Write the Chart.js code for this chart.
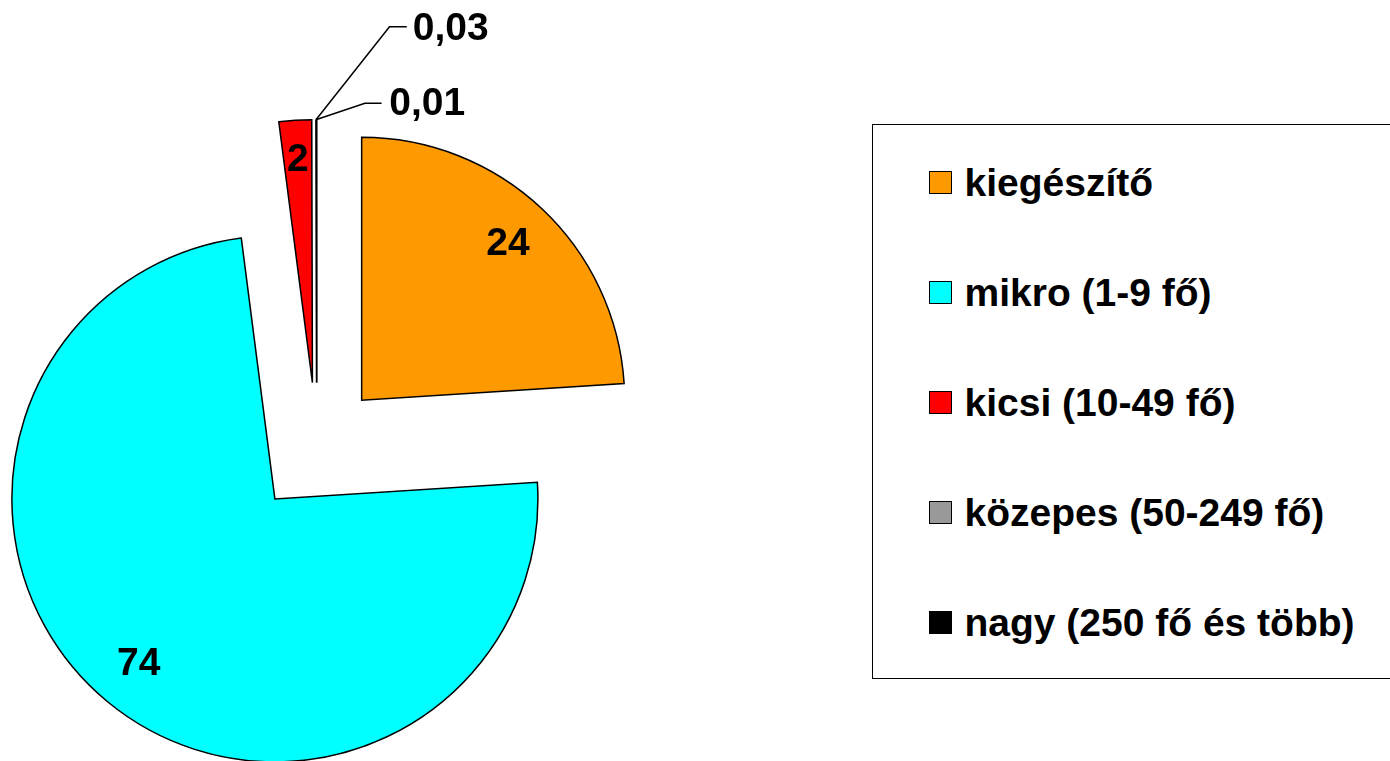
<!DOCTYPE html>
<html>
<head>
<meta charset="utf-8">
<script src="https://cdn.jsdelivr.net/npm/chart.js@4/dist/chart.umd.min.js"></script>
<style>
html,body{margin:0;padding:0;width:1390px;height:761px;overflow:hidden;background:#fff;}
#wrap{position:relative;width:1390px;height:761px;}
#chart{position:absolute;left:0;top:0;}
#legend{position:absolute;left:872px;top:124px;width:560px;height:555px;box-sizing:border-box;border:1.5px solid #000;background:#fff;
  font:bold 39px "Liberation Sans", Arial, sans-serif;color:#000;}
.item{position:absolute;left:55.5px;height:40px;display:flex;align-items:center;white-space:nowrap;}
.sw{width:21px;height:21px;border:1px solid #000;margin-right:13px;flex:none;}
</style>
</head>
<body>
<div id="wrap">
  <canvas id="chart" width="1390" height="761"></canvas>
  <div id="legend"></div>
</div>
<script>
// ---- data ----
const categories = ['kiegészítő', 'mikro (1-9 fő)', 'kicsi (10-49 fő)', 'közepes (50-249 fő)', 'nagy (250 fő és több)'];
const values = [24, 74, 2, 0.03, 0.01];
const colors = ['#FF9900', '#00FFFF', '#FF0000', '#999999', '#000000'];

// ---- layout / style constants ----
const RADIUS = 263;
const EXPLODE = 65.7;
const INSIDE_RATIO = {0: 0.813, 1: 0.814, 2: 0.849};
const LEADERS = {
  3: {elbow: [73.3, -92.8], end: [90.6, -92.8], text: [96.6, -90.5]},
  4: {elbow: [48.3, -16.2], end: [65.0, -16.2], text: [72.6, -15.2]}
};
const LABEL_FONT = 'bold 39px "Liberation Sans", Arial, sans-serif';
const fmt = v => String(v).replace('.', ',');

// explode every slice along its own mid angle
const explodePlugin = {
  id: 'explode',
  afterDatasetUpdate(chart, args) {
    const meta = chart.getDatasetMeta(args.index);
    meta.data.forEach(arc => {
      const mid = (arc.startAngle + arc.endAngle) / 2;
      arc.x += Math.cos(mid) * EXPLODE;
      arc.y += Math.sin(mid) * EXPLODE;
    });
  }
};

// value labels (inside + leader lines)
const labelPlugin = {
  id: 'sliceLabels',
  afterDatasetsDraw(chart) {
    const ctx = chart.ctx;
    const meta = chart.getDatasetMeta(0);
    ctx.save();
    ctx.font = LABEL_FONT;
    ctx.fillStyle = '#000';
    ctx.strokeStyle = '#000';
    ctx.lineWidth = 1.5;
    ctx.textBaseline = 'middle';
    meta.data.forEach((arc, i) => {
      const mid = (arc.startAngle + arc.endAngle) / 2;
      const text = fmt(values[i]);
      const L = LEADERS[i];
      if (L) {
        const ax = arc.x + Math.cos(mid) * arc.outerRadius;
        const ay = arc.y + Math.sin(mid) * arc.outerRadius;
        ctx.beginPath();
        ctx.moveTo(ax, ay);
        ctx.lineTo(ax + L.elbow[0], ay + L.elbow[1]);
        ctx.lineTo(ax + L.end[0], ay + L.end[1]);
        ctx.stroke();
        ctx.textAlign = 'left';
        ctx.fillText(text, ax + L.text[0], ay + L.text[1]);
      } else {
        const r = arc.outerRadius * INSIDE_RATIO[i];
        ctx.textAlign = 'center';
        ctx.fillText(text, arc.x + Math.cos(mid) * r, arc.y + Math.sin(mid) * r);
      }
    });
    ctx.restore();
  }
};

new Chart(document.getElementById('chart'), {
  type: 'pie',
  data: {
    labels: categories,
    datasets: [{
      data: values,
      backgroundColor: colors,
      borderColor: '#000',
      borderWidth: 1.5,
      borderJoinStyle: 'miter',
      clip: false
    }]
  },
  options: {
    responsive: false,
    animation: false,
    events: [],
    radius: RADIUS,
    layout: {padding: {left: 0, right: 756.6, top: 135.4, bottom: 0}},
    plugins: {legend: {display: false}, tooltip: {enabled: false}}
  },
  plugins: [explodePlugin, labelPlugin]
});

// HTML legend built from the same arrays
const legend = document.getElementById('legend');
categories.forEach((c, i) => {
  const item = document.createElement('div');
  item.className = 'item';
  item.style.top = (37.5 + 110 * i) + 'px';
  const sw = document.createElement('span');
  sw.className = 'sw';
  sw.style.background = colors[i];
  const t = document.createElement('span');
  t.textContent = c;
  item.appendChild(sw);
  item.appendChild(t);
  legend.appendChild(item);
});
</script>
</body>
</html>
